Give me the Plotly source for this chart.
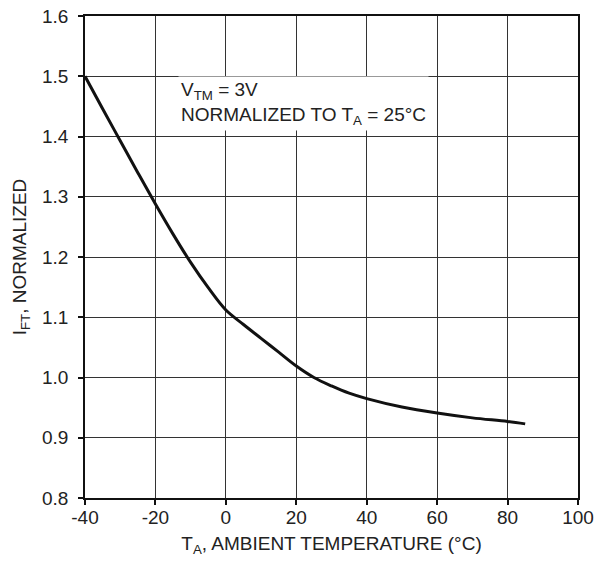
import plotly.graph_objects as go

temperature_c = [-40, -35, -30, -25, -20, -15, -10, -5, 0, 5, 10, 15, 20, 25, 30, 35, 40, 50, 60, 70, 80, 85]
ift_normalized = [1.500, 1.446, 1.393, 1.340, 1.288, 1.238, 1.191, 1.149, 1.112, 1.088, 1.065, 1.042, 1.019, 1.000,
                  0.986, 0.974, 0.965, 0.951, 0.941, 0.933, 0.927, 0.923]
x_ticks = [-40, -20, 0, 20, 40, 60, 80, 100]
y_ticks = [0.8, 0.9, 1.0, 1.1, 1.2, 1.3, 1.4, 1.5, 1.6]

FONT = "Liberation Sans, Arial, sans-serif"
TXT = "#222222"

fig = go.Figure()
fig.add_trace(go.Scatter(
    x=temperature_c, y=ift_normalized, mode="lines",
    line=dict(color="#111111", width=3, shape="spline", smoothing=1.0),
    showlegend=False, hoverinfo="skip"))

fig.add_annotation(
    x=-13.5, y=1.50, xref="x", yref="y", xanchor="left", yanchor="top",
    text="V<sub>TM</sub> = 3V<br>NORMALIZED TO T<sub>A</sub> = 25°C",
    showarrow=False, align="left", bgcolor="white", borderpad=2,
    font=dict(family=FONT, size=19, color=TXT))

axis_common = dict(
    showline=True, linecolor="#111111", linewidth=1.5, mirror=True,
    showgrid=True, gridcolor="#333333", gridwidth=1,
    ticks="outside", ticklen=5, tickcolor="#111111", tickwidth=1.5,
    zeroline=False, automargin=False,
    tickfont=dict(family=FONT, size=19, color=TXT),
)

fig.update_layout(
    width=613, height=561,
    margin=dict(l=85, r=35, t=16, b=63),
    paper_bgcolor="white", plot_bgcolor="white",
    xaxis=dict(range=[-40, 100], tickvals=x_ticks, ticktext=[str(v) for v in x_ticks],
               ticklabelstandoff=-4,
               title=dict(text="T<sub>A</sub>, AMBIENT TEMPERATURE (°C)", standoff=10,
                          font=dict(family=FONT, size=19, color=TXT)),
               **axis_common),
    yaxis=dict(range=[0.8, 1.6], tickvals=y_ticks, ticktext=[f"{v:.1f}" for v in y_ticks],
               ticklabelstandoff=6,
               title=dict(text="I<sub>FT</sub>, NORMALIZED", standoff=10,
                          font=dict(family=FONT, size=19, color=TXT)),
               **axis_common),
)

fig.write_html("out.html", config={"displayModeBar": False},
               post_script="document.body.style.margin='0';")
